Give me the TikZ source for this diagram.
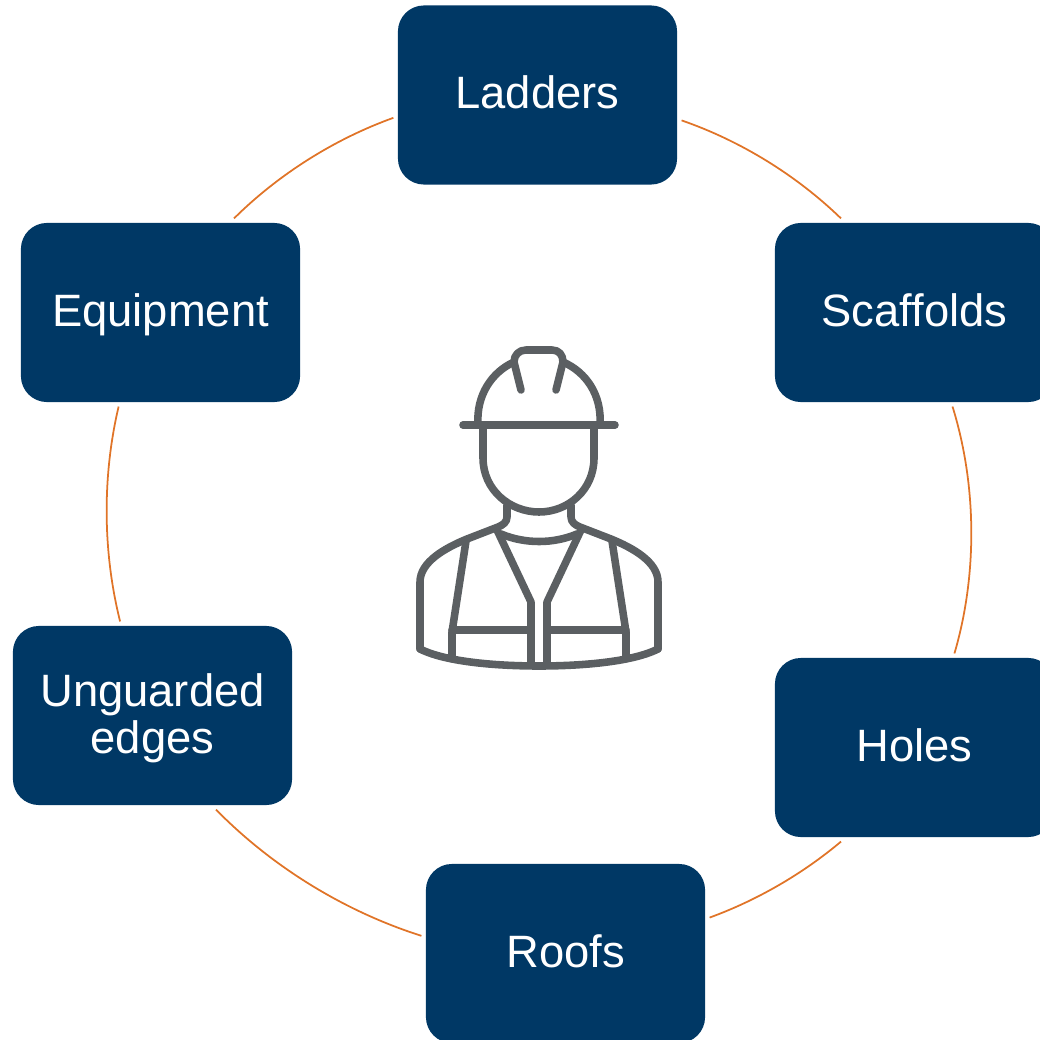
\documentclass[tikz,border=0pt]{standalone}
\usepackage{fontspec}
\setmainfont{Liberation Sans}
\definecolor{boxblue}{HTML}{003865}
\definecolor{ringorange}{HTML}{E07428}
\definecolor{icongray}{HTML}{5B5F62}
\tikzset{
  hazard/.style={fill=boxblue,text=white,rounded corners=.26cm,minimum width=2.79cm,minimum height=1.79cm,
    inner sep=0pt,outer sep=.045cm,align=center,text height=.37cm,text depth=.10cm,font=\fontsize{12.9}{13.3}\selectfont},
  ring/.style={draw=ringorange,line width=.5pt,looseness=.85},
  icon/.style={draw=icongray,line width=2.15pt,line cap=round,line join=round}
}
\begin{document}
\begin{tikzpicture}[x=.01cm,y=-.01cm]
\clip (0,0) rectangle (1040,1040);
\node[hazard] (ladders) at (537.5,95) {Ladders};
\node[hazard] (scaffolds) at (914.5,312.5) {Scaffolds};
\node[hazard] (holes) at (914.5,747.5) {Holes};
\node[hazard] (roofs) at (565.5,953.5) {Roofs};
\node[hazard,text height=.85cm] (unguarded) at (152.5,715.5) {Unguarded\\edges};
\node[hazard] (equipment) at (160.5,312.5) {Equipment};
% ring
\draw[ring] (ladders.189.4) to[bend right=12.5] (equipment.52.5);
\draw[ring] (equipment.246.3) to[bend right=13.7] (unguarded.109.5);
\draw[ring] (unguarded.304) to[bend right=14] (roofs.173.5);
\draw[ring] (roofs.14.2) to[bend right=10] (holes.232.5);
\draw[ring] (holes.67.5) to[bend right=16.8] (scaffolds.292.7);
\draw[ring] (scaffolds.128) to[bend right=12.5] (ladders.350.5);
% worker
\draw[icon] (478,425) .. controls (476,395) and (492,372) .. (514,362);
\draw[icon] (600,425) .. controls (602,395) and (586,372) .. (563,362);
\draw[icon] (521,390) -- (514,362) .. controls (514,355) and (519,350) .. (526,350) -- (552,350)
  .. controls (559,350) and (563,355) .. (563,362) -- (556,390);
\draw[icon] (463,425) -- (615,425);
\draw[icon] (483,425) -- (483,458) .. controls (483,490) and (510,512) .. (539,512)
  .. controls (568,512) and (594,490) .. (594,458) -- (594,425);
\draw[icon] (507,505) -- (507,517) .. controls (507,522) and (503,525) .. (498,527)
  -- (467,539) .. controls (445,548) and (420,562) .. (420,582) -- (420,649);
\draw[icon] (571,505) -- (571,517) .. controls (571,522) and (575,525) .. (580,527)
  -- (611,539) .. controls (633,548) and (658,562) .. (658,582) -- (658,649);
\draw[icon] (501,534) .. controls (525,544) and (553,544) .. (577,534);
\draw[icon] (420,649) .. controls (450,664) and (510,666) .. (539,666) .. controls (568,666) and (628,664) .. (658,649);
\draw[icon] (497,530) -- (531,602) -- (531,664);
\draw[icon] (581,530) -- (547,602) -- (547,664);
\draw[icon] (466,541) -- (452,632) -- (452,657);
\draw[icon] (612,541) -- (626,632) -- (626,657);
\draw[icon] (452,630) -- (531,630);
\draw[icon] (547,630) -- (626,630);
\end{tikzpicture}
\end{document}
